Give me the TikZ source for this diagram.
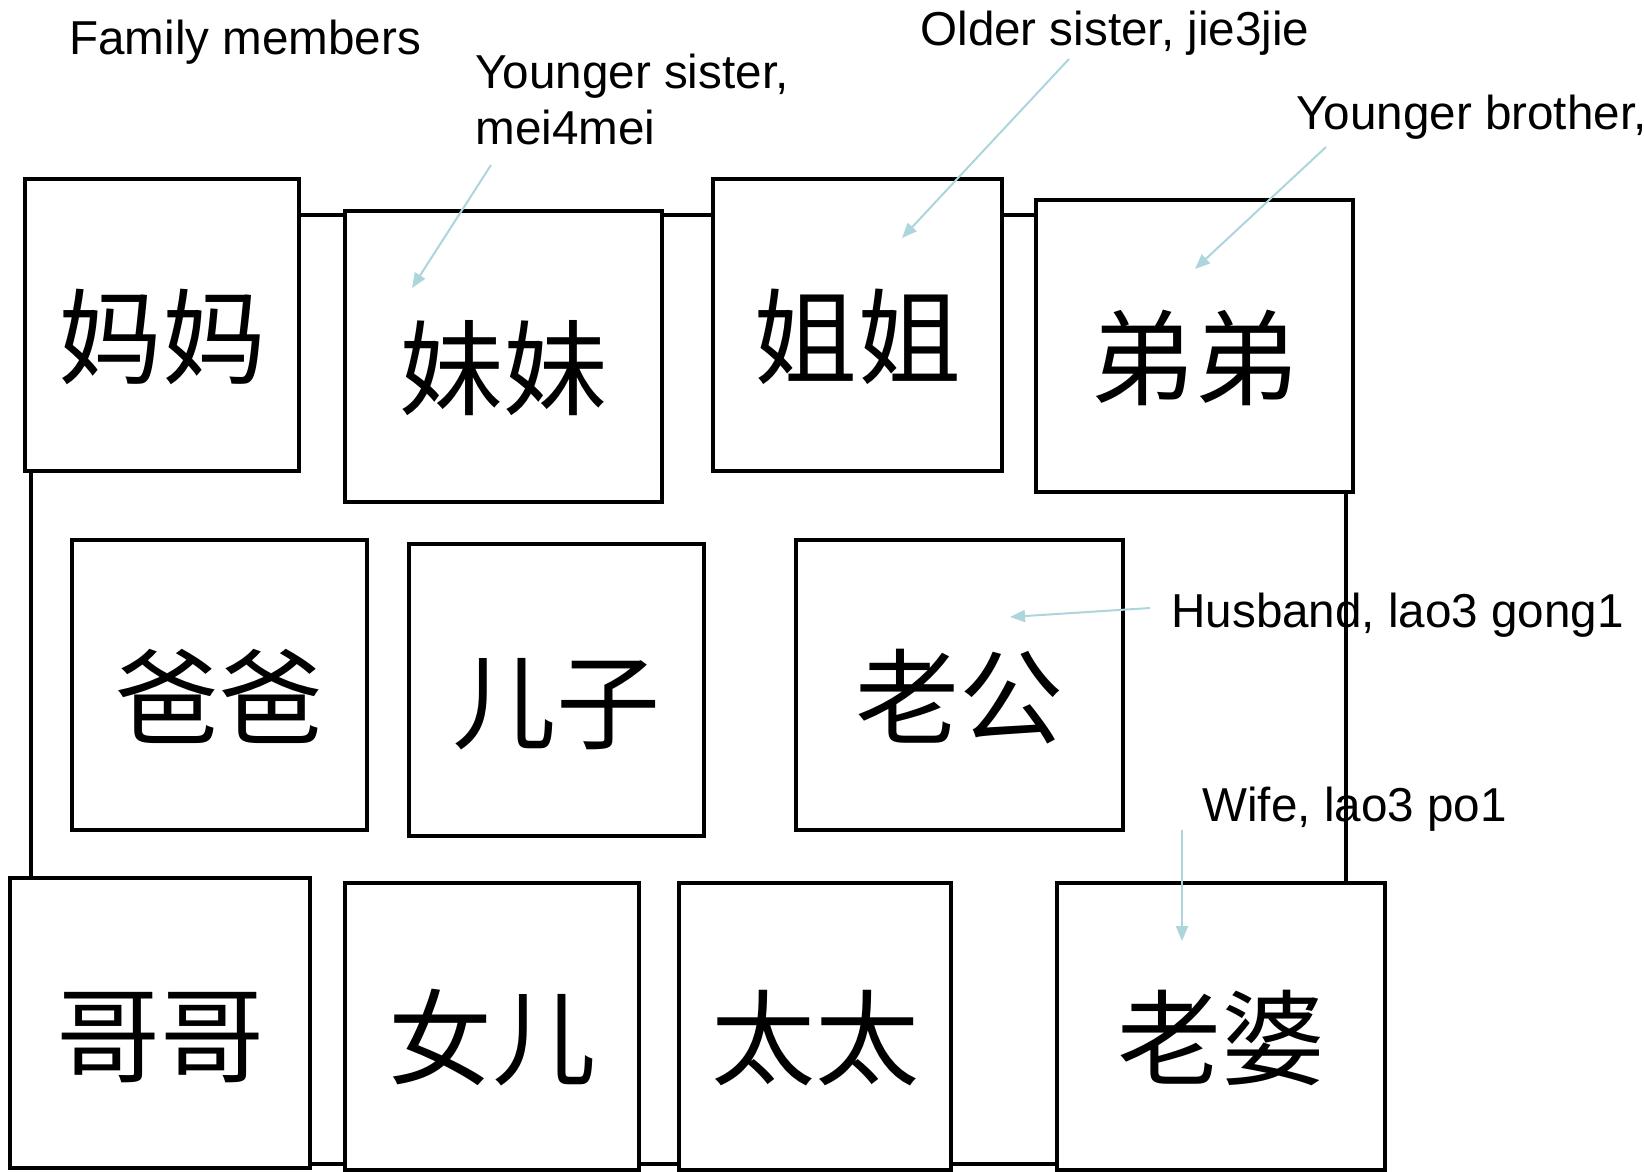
\documentclass[tikz,border=0pt]{standalone}
\usepackage{fontspec}
\setmainfont{Liberation Sans}
\newfontfamily\cjk{Noto Sans CJK SC}
\usetikzlibrary{arrows.meta}
\definecolor{arrowblue}{RGB}{172,214,220}
\begin{document}
\begin{tikzpicture}[x=0.5pt,y=-0.5pt,
  famcard/.style={draw=black, line width=2.4pt, fill=white, inner sep=0pt,
    text height=57pt, text depth=6pt,
    font=\cjk\fontsize{52}{56}\selectfont},
  lbl/.style={inner sep=0pt, font=\fontsize{23.8}{28}\selectfont, align=left},
  callout/.style={draw=arrowblue, line width=1pt, -{Triangle[length=7.5pt,width=6pt]}}]
\useasboundingbox (0,0) rectangle (1644,1172);
\clip (0,0) rectangle (1644,1172);
% background frame
\draw[line width=2pt] (31,215) rectangle (1346,1164);
% cards row 1
\node[famcard, minimum width=137pt, minimum height=146pt] (mama) at (162,325) {妈妈};
\node[famcard, minimum width=158.5pt, minimum height=145.5pt] (meimei) at (503.5,356.5) {妹妹};
\node[famcard, minimum width=144.5pt, minimum height=146pt] (jiejie) at (857.5,325) {姐姐};
\node[famcard, minimum width=158.5pt, minimum height=146pt] (didi) at (1194.5,346) {弟弟};
% row 2
\node[famcard, minimum width=147.5pt, minimum height=145pt] (baba) at (219.5,685) {爸爸};
\node[famcard, minimum width=147.5pt, minimum height=146pt] (erzi) at (556.5,690) {儿子};
\node[famcard, minimum width=163.5pt, minimum height=145pt] (laogong) at (959.5,685) {老公};
% row 3
\node[famcard, minimum width=150pt, minimum height=145pt] (gege) at (160,1023) {哥哥};
\node[famcard, minimum width=147pt, minimum height=143.5pt] (nver) at (492,1026.5) {女儿};
\node[famcard, minimum width=136pt, minimum height=143.5pt] (taitai) at (815,1026.5) {太太};
\node[famcard, minimum width=164pt, minimum height=143.5pt] (laopo) at (1221,1026.5) {老婆};
% labels
\node[lbl, anchor=base west] (title) at (69,55) {Family members};
\node[lbl, anchor=north west] (ysis) at (475,54) {Younger sister,\\mei4mei};
\node[lbl, anchor=base west] (osis) at (920,46) {Older sister, jie3jie};
\node[lbl, anchor=base west] (ybro) at (1296,130) {Younger brother,};
\node[lbl, anchor=base west] (husb) at (1171,627) {Husband, lao3 gong1};
\node[lbl, anchor=base west] (wife) at (1202,821) {Wife, lao3 po1};
% callout endpoints
\coordinate (ysisA) at (491,165);  \coordinate (ysisB) at (412,288);
\coordinate (osisA) at (1069,59);  \coordinate (osisB) at (902,238);
\coordinate (ybroA) at (1326,147); \coordinate (ybroB) at (1195,269);
\coordinate (husbA) at (1150,608); \coordinate (husbB) at (1010,617);
\coordinate (wifeA) at (1182,830); \coordinate (wifeB) at (1182,941);
\draw[callout] (ysisA) -- (ysisB);
\draw[callout] (osisA) -- (osisB);
\draw[callout] (ybroA) -- (ybroB);
\draw[callout] (husbA) -- (husbB);
\draw[callout] (wifeA) -- (wifeB);
\end{tikzpicture}
\end{document}
